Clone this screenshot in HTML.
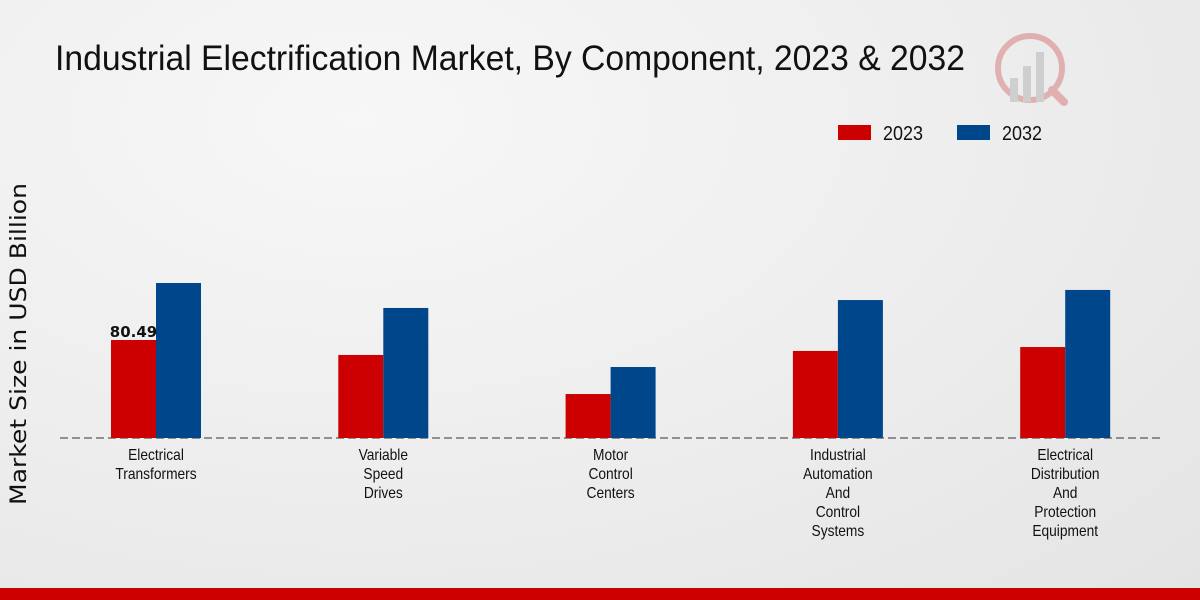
<!DOCTYPE html>
<html><head><meta charset="utf-8"><style>
body{margin:0;width:1200px;height:600px;overflow:hidden;background:radial-gradient(ellipse at 30% 20%,#f7f7f7 0%,#ececec 60%,#e4e4e4 100%);font-family:"Liberation Sans",sans-serif;}
svg{position:absolute;left:0;top:0}
</style></head><body>
<svg id="c" width="1200" height="600">
<text x="55" y="70" font-size="35" fill="#111" textLength="910" lengthAdjust="spacingAndGlyphs">Industrial Electrification Market, By Component, 2023 &amp; 2032</text>
<g opacity="0.35">
<circle cx="1030" cy="68" r="32" fill="none" stroke="#c44" stroke-width="6"/>
<rect x="1010" y="78" width="8" height="24" fill="#999"/><rect x="1023" y="66" width="8" height="36" fill="#999"/><rect x="1036" y="52" width="8" height="50" fill="#999"/>
<line x1="1052" y1="90" x2="1064" y2="102" stroke="#c44" stroke-width="8" stroke-linecap="round"/>
</g>
<g>
<rect x="838" y="125" width="33" height="15" fill="#cc0000"/>
<text x="883" y="140" font-size="20" fill="#111" textLength="40" lengthAdjust="spacingAndGlyphs">2023</text>
<rect x="957" y="125" width="33" height="15" fill="#00468b"/>
<text x="1002" y="140" font-size="20" fill="#111" textLength="40" lengthAdjust="spacingAndGlyphs">2032</text>
</g>
<text transform="translate(26,344) rotate(-90)" text-anchor="middle" font-size="22" fill="#111" textLength="322" lengthAdjust="spacingAndGlyphs" font-family="DejaVu Sans, sans-serif">Market Size in USD Billion</text>
<line x1="60" y1="438" x2="1160" y2="438" stroke="#333" stroke-dasharray="8,4"/>
<g id="bars"></g>
<rect x="0" y="588" width="1200" height="12" fill="#cc0000"/>
</svg>
<script>
const categories=[["Electrical","Transformers"],["Variable","Speed","Drives"],["Motor","Control","Centers"],["Industrial","Automation","And","Control","Systems"],["Electrical","Distribution","And","Protection","Equipment"]];
const values2023=[80.49,68.2,36.1,71.5,74.7];
const values2032=[127.3,106.8,58.3,113.3,121.6];
const labels2023=["80.49","","","",""];
const NS="http://www.w3.org/2000/svg";
const g=document.getElementById("bars");
const base=438,scale=98/80.49;
const xc=i=>156+i*227.3;
const yv=v=>base-v*scale;
function mk(t,a){const e=document.createElementNS(NS,t);for(const k in a)e.setAttribute(k,a[k]);g.appendChild(e);return e;}
categories.forEach((c,i)=>{
 let r=mk("rect",{x:xc(i)-45,y:yv(values2023[i]),width:45,height:base-yv(values2023[i]),fill:"#cc0000"});
 
 
 r=mk("rect",{x:xc(i),y:yv(values2032[i]),width:45,height:base-yv(values2032[i]),fill:"#00468b"});
 
 
 if(labels2023[i]){const t=mk("text",{x:xc(i)-22.5,y:yv(values2023[i])-3,"text-anchor":"middle","font-size":"15","font-weight":"bold",fill:"#111","font-family":"DejaVu Sans, sans-serif"});t.textContent=labels2023[i];
 
 }
 c.forEach((w,j)=>{const t=mk("text",{transform:"translate("+xc(i)+","+(460+j*19)+") scale(0.86,1)","text-anchor":"middle","font-size":"16",fill:"#111"});t.textContent=w;
 
 });
});
</script>
</body></html>
